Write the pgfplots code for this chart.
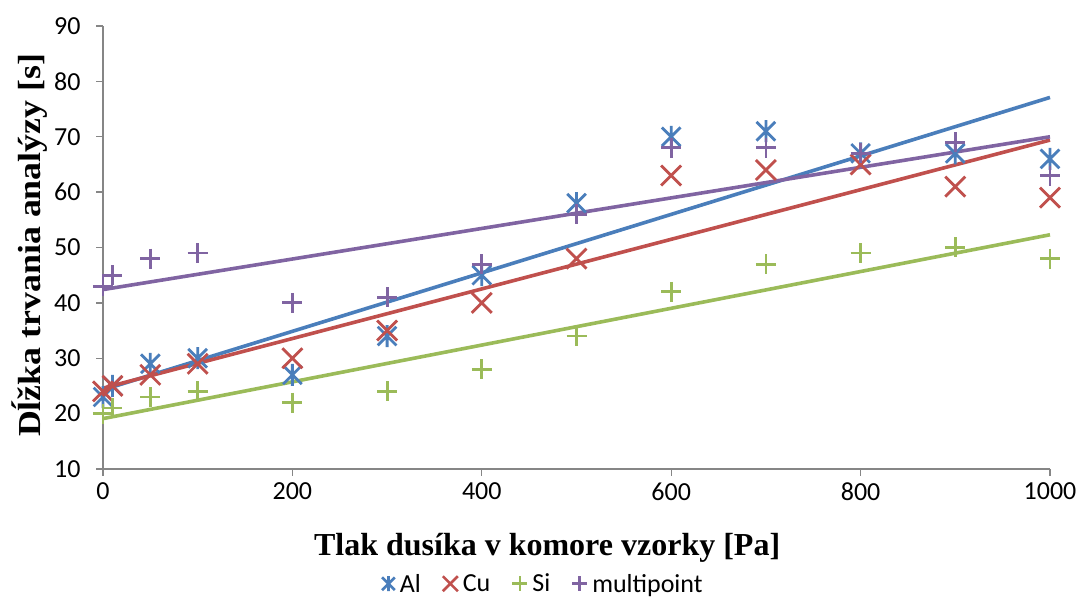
\documentclass[border=0pt]{standalone}
\usepackage{fontspec}
\setmainfont{Liberation Serif}
\newfontfamily\calibri{Carlito}
\usepackage{graphicx}
\usepackage{pgfplots}
\usepackage{pgfplotstable}
\pgfplotsset{compat=1.18}

\definecolor{alblue}{HTML}{4A7EBB}
\definecolor{cured}{HTML}{C0504D}
\definecolor{sigreen}{HTML}{9BBB59}
\definecolor{mppurple}{HTML}{8064A2}
\definecolor{axisgray}{HTML}{868686}

% Excel-like star marker: an x plus a vertical bar
\pgfdeclareplotmark{xstar}{%
  \pgfpathmoveto{\pgfqpoint{-.85\pgfplotmarksize}{-.85\pgfplotmarksize}}%
  \pgfpathlineto{\pgfqpoint{.85\pgfplotmarksize}{.85\pgfplotmarksize}}%
  \pgfpathmoveto{\pgfqpoint{-.85\pgfplotmarksize}{.85\pgfplotmarksize}}%
  \pgfpathlineto{\pgfqpoint{.85\pgfplotmarksize}{-.85\pgfplotmarksize}}%
  \pgfpathmoveto{\pgfqpoint{0pt}{-\pgfplotmarksize}}%
  \pgfpathlineto{\pgfqpoint{0pt}{\pgfplotmarksize}}%
  \pgfusepathqstroke}
% plain x cross reaching the full mark size
\pgfdeclareplotmark{xfull}{%
  \pgfpathmoveto{\pgfqpoint{-\pgfplotmarksize}{-\pgfplotmarksize}}%
  \pgfpathlineto{\pgfqpoint{\pgfplotmarksize}{\pgfplotmarksize}}%
  \pgfpathmoveto{\pgfqpoint{-\pgfplotmarksize}{\pgfplotmarksize}}%
  \pgfpathlineto{\pgfqpoint{\pgfplotmarksize}{-\pgfplotmarksize}}%
  \pgfusepathqstroke}

% measured analysis times
\pgfplotstableread{
x     Al  Cu  Si  mp
0     23  24  20  43
10    25  25  21  45
50    29  27  23  48
100   30  29  24  49
200   27  30  22  40
300   34  35  24  41
400   45  40  28  47
500   58  48  34  56
600   70  63  42  68
700   71  64  47  68
800   67  65  49  67
900   67  61  50  69
1000  66  59  48  63
}\measured

% trend lines (end points)
\pgfplotstableread{
x     Al    Cu    Si    mp
0     24.3  24.6  19.1  42.4
1000  77.1  69.4  52.3  70.0
}\trend

\begin{document}
\begin{tikzpicture}
\useasboundingbox (-103pt,-130pt) rectangle (977pt,469pt);
\begin{axis}[
    scale only axis,
    width=947pt, height=443pt,
    xmin=0, xmax=1000, ymin=10, ymax=90,
    xtick={0,200,...,1000}, ytick={10,20,...,90},
    axis x line*=bottom, axis y line*=left,
    axis line style={draw=axisgray, line width=1.3pt},
    tick style={draw=axisgray, line width=1.3pt},
    tick align=outside, major tick length=7pt,
    tick label style={font=\calibri\fontsize{26}{30}\selectfont},
    /pgf/number format/assume math mode=true,
    /pgf/number format/1000 sep={},
    xticklabel style={yshift=-3pt},
    yticklabel style={xshift=-12pt},
    xlabel={Tlak dusíka v komore vzorky [Pa]},
    ylabel={\scalebox{1.12}[1]{Dĺžka trvania analýzy [s]}},
    xlabel style={font=\fontsize{32}{36}\selectfont\bfseries,
        at={(axis description cs:0.469,-0.178)}, anchor=center},
    ylabel style={font=\fontsize{32}{36}\selectfont\bfseries,
        at={(axis description cs:-0.078,0.505)}, anchor=center},
    legend style={at={(0.465,-0.259)}, anchor=center, draw=none,
        inner sep=0pt,
        font=\calibri\fontsize{26}{30}\selectfont,
        nodes={inner sep=2pt},
        /tikz/every odd column/.append style={column sep=3pt},
        /tikz/every even column/.append style={column sep=20pt}},
    legend columns=4,
    legend image code/.code={\draw[#1, mark size=7.5pt, line width=2.6pt]
        plot coordinates {(0cm,0cm)};},
    clip=false,
]
\addplot[only marks, mark=xstar, mark size=11pt, draw=alblue, line width=2.8pt]
    table[x=x, y=Al] {\measured};
\addlegendentry{Al}
\addplot[only marks, mark=xfull, mark size=10pt, draw=cured, line width=2.8pt]
    table[x=x, y=Cu] {\measured};
\addlegendentry{Cu}
\addplot[only marks, mark=+, mark size=10pt, draw=sigreen, line width=2.8pt]
    table[x=x, y=Si] {\measured};
\addlegendentry{Si}
\addplot[only marks, mark=+, mark size=10pt, draw=mppurple, line width=2.8pt]
    table[x=x, y=mp] {\measured};
\addlegendentry{multipoint}

\addplot[alblue, line width=3.6pt, forget plot] table[x=x, y=Al] {\trend};
\addplot[cured, line width=3.6pt, forget plot] table[x=x, y=Cu] {\trend};
\addplot[sigreen, line width=3.6pt, forget plot] table[x=x, y=Si] {\trend};
\addplot[mppurple, line width=3.6pt, forget plot] table[x=x, y=mp] {\trend};
\end{axis}
\end{tikzpicture}
\end{document}
